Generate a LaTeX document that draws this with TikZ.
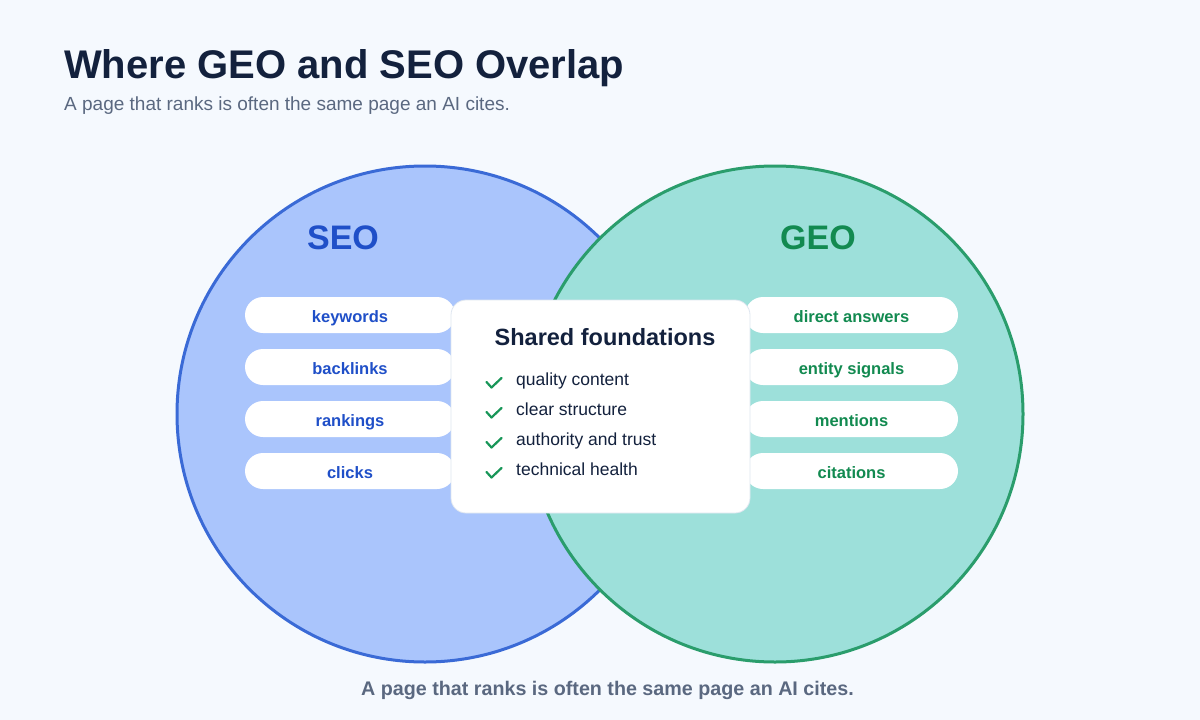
\documentclass[tikz,border=0pt]{standalone}
\usepackage{fontspec}
\setmainfont{Liberation Sans}
\usetikzlibrary{positioning, calc}
\definecolor{bgpale} {RGB}{245,249,254}
\definecolor{navy}   {RGB}{ 19, 33, 61}
\definecolor{slate}  {RGB}{ 90,104,128}
\definecolor{sblue}  {RGB}{ 58,106,214}
\definecolor{sbfill} {RGB}{170,197,252}
\definecolor{stext}  {RGB}{ 31, 79,200}
\definecolor{ggrn}   {RGB}{ 42,157,108}
\definecolor{ggfill} {RGB}{157,224,218}
\definecolor{gtext}  {RGB}{ 18,138, 80}
\definecolor{chk}    {RGB}{ 24,150, 88}
\definecolor{lgray}  {RGB}{222,230,240}
\tikzset{
  % Big set circles
  SC/.style={circle,minimum size=496pt,inner sep=0pt,line width=3pt},
  % White pill for set items
  PL/.style={rectangle,rounded corners=18pt,fill=white,minimum width=210pt,
             minimum height=36pt,inner sep=0pt,text height=14pt,text depth=0pt,
             font=\fontsize{16.5}{18}\selectfont\bfseries,text=#1},
  PL/.default=stext,
  % Set heading
  HD/.style={font=\fontsize{34}{38}\selectfont\bfseries,text=#1,anchor=base},
  % Check mark stroke
  CK/.style={draw=chk,line width=2.2pt,line cap=round,line join=round},
  CT/.style={font=\fontsize{17.5}{20}\selectfont,text=navy,anchor=base west,
             inner sep=0pt},
}
\begin{document}
\begin{tikzpicture}[x=1pt,y=-1pt]
  \fill[bgpale] (0,0) rectangle (1200,720);
  \useasboundingbox (0,0) rectangle (1200,720);

  % title
  \node[anchor=base west,inner sep=0pt,text=navy,
        font=\fontsize{40}{44}\selectfont\bfseries] (title) at (64,78)
        {Where GEO and SEO Overlap};
  \node[anchor=base west,inner sep=0pt,text=slate,
        font=\fontsize{19}{22}\selectfont] (sub) at (64,110)
        {A page that ranks is often the same page an AI cites.};

  % the two sets
  \node[SC,draw=sblue,fill=sbfill] (seo) at (425,414) {};
  \node[SC,draw=ggrn,fill=ggfill] (geo) at (775,414) {};
  \node[HD=stext] (seoh) at (343,249) {SEO};
  \node[HD=gtext] (geoh) at (818,249) {GEO};

  % SEO items
  \node[PL] (kw) at (350,315) {keywords};
  \node[PL] (bl) at (350,367) {backlinks};
  \node[PL] (rk) at (350,419) {rankings};
  \node[PL] (cl) at (350,471) {clicks};

  % GEO items
  \node[PL=gtext,minimum width=213pt] (da) at (851.5,315) {direct answers};
  \node[PL=gtext,minimum width=213pt] (es) at (851.5,367) {entity signals};
  \node[PL=gtext,minimum width=213pt] (mn) at (851.5,419) {mentions};
  \node[PL=gtext,minimum width=213pt] (ct) at (851.5,471) {citations};

  % shared box
  \node[rectangle,rounded corners=15pt,fill=white,draw=lgray,line width=0.8pt,
        minimum width=299pt,minimum height=213pt] (shared) at (600.5,406.5) {};
  \node[anchor=base,text=navy,font=\fontsize{23.5}{26}\selectfont\bfseries]
        (sh) at (605,345) {Shared foundations};
  \foreach \yy in {383,413,443,473}
    \draw[CK] (486.5,\yy-1) -- (491.5,\yy+4.5) -- (501.5,\yy-5);
  \node[CT] (t1) at (516,385) {quality content};
  \node[CT] (t2) at (516,415) {clear structure};
  \node[CT] (t3) at (516,445) {authority and trust};
  \node[CT] (t4) at (516,475) {technical health};

  % footer
  \node[anchor=base west,inner sep=0pt,text=slate,
        font=\fontsize{19.7}{22}\selectfont\bfseries] (foot) at (361,695)
        {A page that ranks is often the same page an AI cites.};
\end{tikzpicture}
\end{document}
